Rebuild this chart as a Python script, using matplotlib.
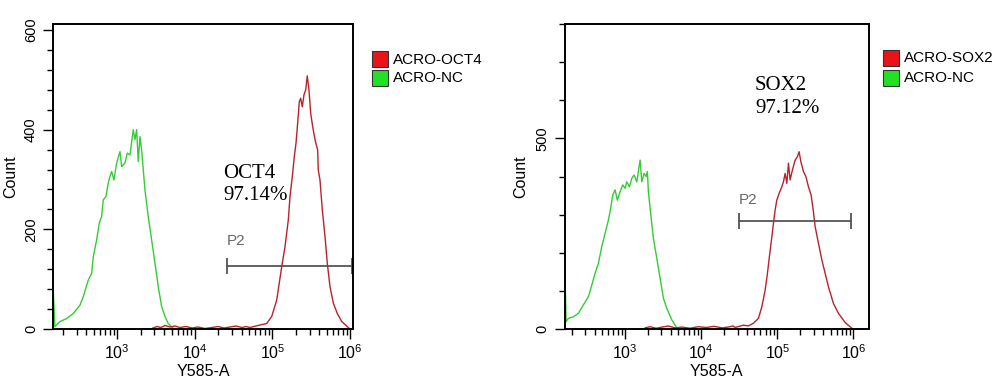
import matplotlib
matplotlib.use('Agg')
import matplotlib.pyplot as plt
from matplotlib.patches import Rectangle
from matplotlib.ticker import LogLocator, MultipleLocator, FixedLocator, NullFormatter

plt.rcParams['font.family'] = ['Liberation Sans', 'DejaVu Sans']
plt.rcParams['mathtext.fontset'] = 'custom'
plt.rcParams['mathtext.rm'] = 'Liberation Sans'
plt.rcParams['mathtext.it'] = 'Liberation Sans'

# ---------------- data ----------------
# Left panel: OCT4
oct_nc_x = [150, 150, 157, 183, 223, 271, 331, 365, 423, 468, 491, 543, 586, 630, 660, 715, 766, 805, 847, 907,
            982, 1084, 1140, 1256, 1346, 1458, 1608, 1690, 1778, 1866, 1963, 2062, 2275, 2506, 2773, 3062, 3375,
            3733, 4121, 4540, 5270]
oct_nc_y = [0, 78, 5, 15, 21, 31, 48, 65, 98, 112, 145, 179, 212, 226, 259, 266, 293, 306, 316, 299,
            333, 356, 326, 333, 353, 349, 400, 380, 400, 336, 386, 359, 279, 226, 179, 132, 85,
            45, 25, 11, 1]
oct_x = [2884, 3251, 3656, 4121, 4776, 5546, 6427, 7677, 9183, 10960, 13490, 16600, 19860, 23710, 28330,
         33870, 40460, 45600, 51290, 69020, 84140, 97700, 113300, 131500, 145000, 159900, 168200, 180000,
         191000, 201000, 211000, 221500, 230700, 242100, 254700, 267900, 280600, 295100, 310500, 329600,
         353100, 382100, 389000, 409300, 438500, 475300, 508200, 550800, 608100, 684000, 779800, 903600, 977200]
oct_y = [2, 5, 3, 7, 4, 6, 3, 5, 2, 4, 1, 3, 5, 2, 4,
         6, 3, 5, 3, 8, 11, 25, 58, 125, 165, 219, 266, 306,
         346, 373, 413, 456, 463, 446, 470, 480, 508, 480, 433, 406,
         380, 359, 319, 299, 239, 185, 132, 85, 52, 31, 15, 6, 1]

# Right panel: SOX2
sox_nc_x = [160, 160, 168, 180, 209, 243, 283, 330, 365, 403, 446, 494, 546, 604, 635, 689, 739, 792, 860, 933,
            1000, 1052, 1140, 1224, 1313, 1425, 1496, 1574, 1656, 1778, 1888, 1963, 2024, 2178, 2355, 2612,
            2884, 3187, 3532, 4111, 4775]
sox_nc_y = [0, 212, 19, 28, 32, 41, 63, 85, 115, 146, 172, 216, 251, 286, 308, 351, 365, 338, 360, 378,
            369, 386, 373, 395, 404, 386, 413, 443, 386, 408, 400, 413, 360, 299, 238, 185,
            133, 81, 54, 24, 3]
sox_x = [1832, 2131, 2553, 3063, 3673, 4539, 5609, 7146, 9103, 11600, 14780, 18830, 22560, 26240,
         27870, 35890, 41690, 48530, 56490, 62520, 69180, 74130, 78700, 84720, 88920, 93540, 98400,
         105700, 114600, 120300, 126500, 133300, 140000, 147200, 157800, 171400, 183700, 193200, 203700,
         220300, 237100, 256400, 278000, 297900, 314100, 346700, 384600, 424600, 469000, 545800, 635300,
         778000, 952600]
sox_y = [3, 6, 2, 5, 8, 3, 5, 2, 6, 4, 7, 3, 5, 8,
         4, 10, 8, 15, 28, 58, 102, 146, 190, 242, 277, 312, 338,
         356, 373, 386, 408, 382, 435, 391, 417, 443, 452, 465, 439,
         413, 400, 373, 351, 308, 268, 225, 181, 146, 111, 67, 41,
         17, 2]

oct_legend = ['ACRO-OCT4', 'ACRO-NC']
sox_legend = ['ACRO-SOX2', 'ACRO-NC']
oct_gate_x = [25950, 1.06e6]
oct_gate_y = 127
sox_gate_x = [31500, 9.33e5]
sox_gate_y = 283
oct_text = ['OCT4', '97.14%']
sox_text = ['SOX2', '97.12%']

RED = '#b8222a'
GREEN = '#33cc33'
GATE = '#555555'

W, H = 1000, 387
fig = plt.figure(figsize=(10, 3.87), dpi=100)
ax1 = fig.add_axes([53.3 / W, 1 - 329 / H, 299.4 / W, 305 / H])
ax2 = fig.add_axes([564.5 / W, 1 - 329 / H, 304.5 / W, 305 / H])


def style(ax, xlim, ylim, ymajor, yminor):
    ax.set_xscale('log')
    ax.set_xlim(*xlim)
    ax.set_ylim(*ylim)
    ax.xaxis.set_major_locator(FixedLocator([1e3, 1e4, 1e5, 1e6]))
    ax.xaxis.set_minor_locator(LogLocator(base=10, subs=range(2, 10), numticks=20))
    ax.xaxis.set_minor_formatter(NullFormatter())
    ax.yaxis.set_major_locator(FixedLocator(ymajor))
    ax.yaxis.set_minor_locator(MultipleLocator(yminor))
    ax.tick_params(which='major', direction='out', length=7, width=1, pad=4)
    ax.tick_params(axis='x', which='major', labelsize=11.5, pad=3)
    ax.tick_params(axis='y', which='major', labelsize=10.5)
    ax.tick_params(which='minor', direction='out', length=4, width=1)
    for lbl in ax.get_yticklabels():
        lbl.set_rotation(90)
        lbl.set_va('center')
    for sp in ax.spines.values():
        sp.set_linewidth(1.4)
    ax.set_xlabel('Y585-A', fontsize=11.5)
    ax.set_ylabel('Count', fontsize=11.5)


style(ax1, (150, 1.08e6), (0, 612), [0, 200, 400, 600], 40)
style(ax2, (160, 1.6e6), (0, 800), [0, 500], 100)
ax1.xaxis.set_label_coords(0.5, -0.115)
ax2.xaxis.set_label_coords(0.5, -0.115)
ax1.yaxis.set_label_coords((18 - 53.3) / 299.4, 0.5)
ax2.yaxis.set_label_coords((528 - 564.5) / 304.5, 0.5)

ax1.plot(oct_nc_x, oct_nc_y, color=GREEN, lw=1.0)
ax1.plot(oct_x, oct_y, color=RED, lw=1.0)
ax2.plot(sox_nc_x, sox_nc_y, color=GREEN, lw=1.0)
ax2.plot(sox_x, sox_y, color=RED, lw=1.0)

# gates
ax1.plot(oct_gate_x, [oct_gate_y] * 2, color=GATE, lw=1.3, marker='|', markersize=12, markeredgewidth=1.3)
ax2.plot(sox_gate_x, [sox_gate_y] * 2, color=GATE, lw=1.3, marker='|', markersize=11, markeredgewidth=1.3)
ax1.text(oct_gate_x[0], 176, 'P2', color='#666666', fontsize=11, va='center', ha='left')
ax2.text(sox_gate_x[0], 338, 'P2', color='#666666', fontsize=11, va='center', ha='left')

# annotations
serif = ['Liberation Serif', 'DejaVu Serif']
ax1.text(23000, 303, oct_text[0], family=serif, fontsize=15, va='baseline', ha='left')
ax1.text(23000, 259, oct_text[1], family=serif, fontsize=15, va='baseline', ha='left')
ax2.text(51000, 627, sox_text[0], family=serif, fontsize=15, va='baseline', ha='left')
ax2.text(51000, 567, sox_text[1], family=serif, fontsize=15, va='baseline', ha='left')


# legends
def legend(x0, tops, labels, colors):
    for top, lab, col in zip(tops, labels, colors):
        fig.patches.append(Rectangle((x0 / W, 1 - (top + 16) / H), 16 / W, 16 / H,
                                     transform=fig.transFigure, facecolor=col,
                                     edgecolor='#333333', lw=0.8))
        fig.text((x0 + 21) / W, 1 - (top + 8.5) / H, lab, fontsize=11, va='center', ha='left')


legend(372, [51, 70], oct_legend, ['#e8141a', '#22e022'])
legend(883, [50, 70], sox_legend, ['#e8141a', '#22e022'])

fig.savefig('out.png', dpi=100)
